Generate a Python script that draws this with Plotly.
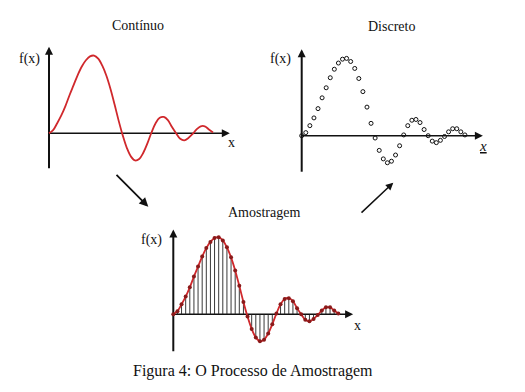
import plotly.graph_objects as go

W, H = 525, 392

# sample index and signal values (normalised)
n = list(range(41))
signal = [0.00, 0.04, 0.13, 0.23, 0.35, 0.49, 0.62, 0.75, 0.86, 0.94,
          0.99, 1.00, 0.96, 0.87, 0.74, 0.57, 0.37, 0.16, -0.03, -0.19,
          -0.30, -0.35, -0.33, -0.25, -0.13, 0.01, 0.13, 0.20, 0.21, 0.17,
          0.08, 0.00, -0.07, -0.09, -0.06, -0.01, 0.05, 0.09, 0.09, 0.05, 0.01]

titles = ["Contínuo", "Discreto", "Amostragem"]
caption = "Figura 4: O Processo de Amostragem"

FONT = "Liberation Serif"
RED = "#d0282c"
INK = "#111111"


def frame(box, origin, scale):
    px0, py0, px1, py1 = box
    ox, oy = origin
    sx, sy = scale
    return dict(
        xdom=[px0 / W, px1 / W], xr=[(px0 - ox) / sx, (px1 - ox) / sx],
        ydom=[1 - py1 / H, 1 - py0 / H], yr=[(oy - py1) / sy, (oy - py0) / sy])


panels = [
    frame((10, 35, 250, 180), (49, 133.3), (4.1, 77.7)),
    frame((265, 35, 505, 180), (301.7, 135.7), (4.08, 77.3)),
    frame((140, 220, 380, 357), (173.3, 314.3), (4.125, 77.0)),
]
axis_ext = [  # x end, y bottom, y top (data units)
    (44.1, -0.45, 1.115),
    (44.4, -0.466, 1.118),
    (43.6, -0.48, 1.10),
]

fig = go.Figure()

# Panel 1: continuous
fig.add_trace(go.Scatter(x=n, y=signal, mode="lines", line=dict(color=RED, width=1.8, shape="spline"),
                         xaxis="x", yaxis="y", hoverinfo="skip"))
# Panel 2: discrete
fig.add_trace(go.Scatter(x=n, y=signal, mode="markers",
                         marker=dict(symbol="circle-open", size=4, color=INK, line=dict(width=1, color=INK)),
                         xaxis="x2", yaxis="y2", hoverinfo="skip"))
# Panel 3: sampling
sx, sy = [], []
for xi, yi in zip(n, signal):
    sx += [xi, xi, None]
    sy += [0, yi, None]
fig.add_trace(go.Scatter(x=sx, y=sy, mode="lines", line=dict(color="#222222", width=0.9),
                         xaxis="x3", yaxis="y3", hoverinfo="skip"))
fig.add_trace(go.Scatter(x=n, y=signal, mode="lines+markers",
                         line=dict(color=RED, width=1.8, shape="spline"),
                         marker=dict(size=4, color="#8a1a1a"),
                         xaxis="x3", yaxis="y3", hoverinfo="skip"))

layout = dict(width=W, height=H, margin=dict(l=0, r=0, t=0, b=0),
              paper_bgcolor="white", plot_bgcolor="rgba(0,0,0,0)", showlegend=False)
shapes, annotations = [], []
for i, p in enumerate(panels):
    sfx = "" if i == 0 else str(i + 1)
    layout["xaxis" + sfx] = dict(domain=p["xdom"], range=p["xr"], visible=False, anchor="y" + sfx)
    layout["yaxis" + sfx] = dict(domain=p["ydom"], range=p["yr"], visible=False, anchor="x" + sfx)
    xe, yb, yt = axis_ext[i]
    xr_, yr_ = "x" + sfx, "y" + sfx
    shapes.append(dict(type="line", xref=xr_, yref=yr_, x0=0, x1=xe - 1, y0=0, y1=0,
                       line=dict(color=INK, width=1.6), layer="below"))
    shapes.append(dict(type="line", xref=xr_, yref=yr_, x0=0, x1=0, y0=yb, y1=yt - 0.05,
                       line=dict(color=INK, width=2), layer="below"))
    annotations.append(dict(xref=xr_, yref=yr_, x=xe, y=0, ax=-8, ay=0, showarrow=True,
                            arrowhead=2, arrowsize=1, arrowwidth=1.6, arrowcolor=INK, text=""))
    annotations.append(dict(xref=xr_, yref=yr_, x=0, y=yt, ax=0, ay=8, showarrow=True,
                            arrowhead=2, arrowsize=1, arrowwidth=1.6, arrowcolor=INK, text=""))


def label(text, px, py, size=14):
    annotations.append(dict(xref="paper", yref="paper", x=px / W, y=1 - py / H, text=text,
                            showarrow=False, xanchor="center", yanchor="middle",
                            font=dict(family=FONT, size=size, color=INK)))


label("f(x)", 29, 59)
label("f(x)", 280, 59)
label("f(x)", 151, 240)
label("x", 231, 142)
label("<i><u>x</u></i>", 483, 146, 15)
label("x", 357, 325)
label(titles[0], 138, 25)
label(titles[1], 391, 26)
label(titles[2], 264, 212)
label(caption, 253, 371, 16)

# process arrows
annotations.append(dict(xref="paper", yref="paper", x=148.3 / W, y=1 - 206.7 / H, ax=-33.3, ay=-33.4,
                        showarrow=True, arrowhead=2, arrowsize=1, arrowwidth=1.8, arrowcolor=INK, text=""))
annotations.append(dict(xref="paper", yref="paper", x=393.3 / W, y=1 - 182.7 / H, ax=-33.3, ay=31.3,
                        showarrow=True, arrowhead=2, arrowsize=1, arrowwidth=1.5, arrowcolor=INK, text=""))

layout["shapes"] = shapes
layout["annotations"] = annotations
fig.update_layout(**layout)
fig.write_html("out.html")
